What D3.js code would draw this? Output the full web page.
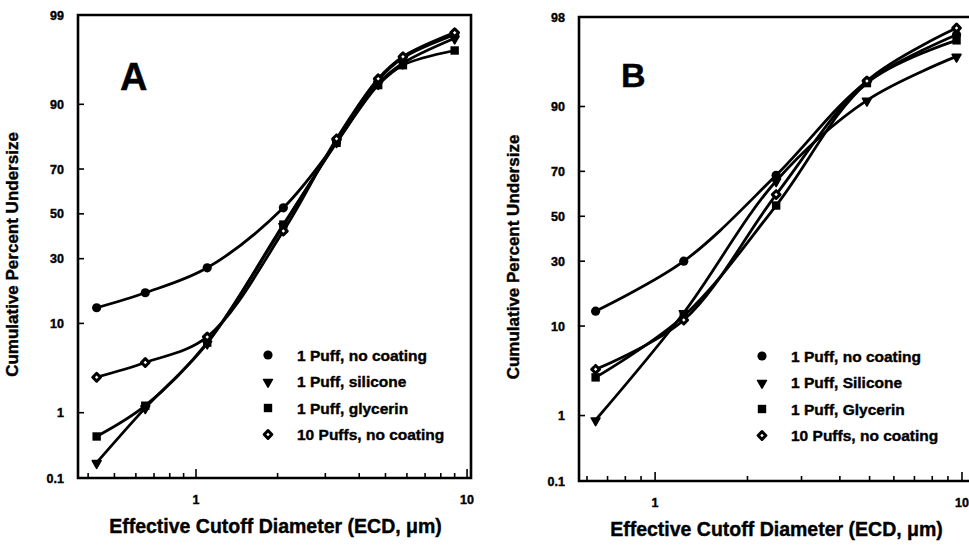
<!DOCTYPE html>
<html>
<head>
<meta charset="utf-8">
<script src="https://cdn.jsdelivr.net/npm/d3@7"></script>
<style>
  body { margin: 0; background: #fff; }
  svg { display: block; font-family: "Liberation Sans", Arial, sans-serif; font-weight: bold; }
  svg text { fill: #000; stroke: #000; stroke-width: 0.4px; }
</style>
</head>
<body>
<svg id="chart" width="969" height="548"></svg>
<script>
// series names, shared by both panels
const seriesA = ["1 Puff, no coating", "1 Puff, silicone", "1 Puff, glycerin", "10 Puffs, no coating"];
const seriesB = ["1 Puff, no coating", "1 Puff, Silicone", "1 Puff, Glycerin", "10 Puffs, no coating"];
const symbols = ["circle", "triangle", "square", "diamond"];

// panel A: cutoff diameters (um) and cumulative % undersize
const ecdA = [0.43, 0.65, 1.1, 2.1, 3.3, 4.7, 5.8, 9.0];
const noCoatA = [13.6, 17.8, 26.4, 52.8, 80.0, 94.1, 96.6, 98.2];
const siliconeA = [0.18, 1.16, 6.5, 44.5, 80.0, 93.6, 96.1, 98.0];
const glycerinA = [0.46, 1.24, 6.6, 45.0, 79.7, 93.4, 95.9, 97.2];
const tenPuffA = [2.8, 4.1, 7.5, 42.0, 81.0, 94.3, 96.7, 98.3];

// panel B
const ecdB = [0.64, 1.24, 2.48, 4.9, 9.6];
const noCoatB = [13.4, 30.0, 68.4, 94.2, 98.3];
const siliconeB = [0.87, 13.0, 66.0, 91.2, 96.9];
const glycerinB = [3.0, 12.2, 55.0, 94.0, 98.0];
const tenPuffB = [3.7, 11.3, 60.0, 94.3, 98.6];

// probability axis
const yTicks = [0.1, 1, 10, 30, 50, 70, 90, 99];
const yTickLabelsA = ["0.1", "1", "10", "30", "50", "70", "90", "99"];
const yTickLabelsB = ["0.1", "1", "10", "30", "50", "70", "90", "98"];
const xLabels = [1, 10];

// inverse normal cdf (Acklam), used to build the probit scale
function probit(p) {
  const a = [-39.69683028665376, 220.9460984245205, -275.9285104469687, 138.357751867269, -30.66479806614716, 2.506628277459239];
  const b = [-54.47609879822406, 161.5858368580409, -155.6989798598866, 66.80131188771972, -13.28068155288572];
  const c = [-0.007784894002430293, -0.3223964580411365, -2.400758277161838, -2.549732539343734, 4.374664141464968, 2.938163982698783];
  const d = [0.007784695709041462, 0.3224671290700398, 2.445134137142996, 3.754408661907416];
  const pl = 0.02425;
  if (p < pl) {
    const q = Math.sqrt(-2 * Math.log(p));
    return (((((c[0] * q + c[1]) * q + c[2]) * q + c[3]) * q + c[4]) * q + c[5]) /
      ((((d[0] * q + d[1]) * q + d[2]) * q + d[3]) * q + 1);
  }
  if (p > 1 - pl) {
    const q = Math.sqrt(-2 * Math.log(1 - p));
    return -(((((c[0] * q + c[1]) * q + c[2]) * q + c[3]) * q + c[4]) * q + c[5]) /
      ((((d[0] * q + d[1]) * q + d[2]) * q + d[3]) * q + 1);
  }
  const q = p - 0.5;
  const r = q * q;
  return (((((a[0] * r + a[1]) * r + a[2]) * r + a[3]) * r + a[4]) * r + a[5]) * q /
    (((((b[0] * r + b[1]) * r + b[2]) * r + b[3]) * r + b[4]) * r + 1);
}

const svg = d3.select("#chart");

function drawMarker(g, kind, cx, cy) {
  if (kind === "circle") {
    g.append("circle").attr("cx", cx).attr("cy", cy).attr("r", 4.6).attr("fill", "#000");
  } else if (kind === "square") {
    g.append("rect").attr("x", cx - 4.2).attr("y", cy - 4.2).attr("width", 8.4).attr("height", 8.4).attr("fill", "#000");
  } else if (kind === "triangle") {
    g.append("path")
      .attr("transform", `translate(${cx},${cy + 0.5}) rotate(180)`)
      .attr("d", d3.symbol(d3.symbolTriangle, 34)())
      .attr("fill", "#000").attr("stroke", "#000").attr("stroke-width", 1.6)
      .attr("stroke-linejoin", "round");
  } else {
    // open diamond: square turned 45 degrees, heavy outline
    g.append("path")
      .attr("transform", `translate(${cx},${cy}) rotate(45)`)
      .attr("d", d3.symbol(d3.symbolSquare, 30)())
      .attr("fill", "#fff").attr("stroke", "#000").attr("stroke-width", 3)
      .attr("stroke-linejoin", "round");
  }
}

function drawPanel(opts) {
  const { box, xDomain, ecd, series, names, tickLabels, letter, letterPos, letterSize, legendPos, rightEdge } = opts;

  const x = d3.scaleLog().domain(xDomain).range([box.left, box.right]);
  const yz = d3.scaleLinear().domain([probit(0.001), probit(0.99)]).range([box.bottom, box.top]);
  const y = (p) => yz(probit(p / 100));

  const g = svg.append("g");

  // frame
  g.append("path")
    .attr("d", rightEdge
      ? `M${box.left},${box.top}H${box.right}V${box.bottom}H${box.left}Z`
      : `M${box.right},${box.top}H${box.left}V${box.bottom}H${box.right}`)
    .attr("fill", "none").attr("stroke", "#000").attr("stroke-width", 2.6);

  // x ticks (inward), log scale
  x.ticks().forEach((t) => {
    const major = Math.abs(Math.log10(t) - Math.round(Math.log10(t))) < 1e-9;
    g.append("line")
      .attr("x1", x(t)).attr("x2", x(t))
      .attr("y1", box.bottom).attr("y2", box.bottom - (major ? 9 : 5))
      .attr("stroke", "#000").attr("stroke-width", 1.6);
  });
  xLabels.forEach((t) => {
    g.append("text")
      .attr("x", x(t)).attr("y", box.bottom + 26)
      .attr("text-anchor", "middle").attr("font-size", 12.5)
      .text(t);
  });

  // y ticks (inward), probability scale
  yTicks.forEach((t, i) => {
    g.append("line")
      .attr("x1", box.left).attr("x2", box.left + 6)
      .attr("y1", y(t)).attr("y2", y(t))
      .attr("stroke", "#000").attr("stroke-width", 1.6);
    g.append("text")
      .attr("x", box.left - 14).attr("y", y(t) + 4.5)
      .attr("text-anchor", "end").attr("font-size", 12.5)
      .text(tickLabels[i]);
  });

  // axis titles
  g.append("text")
    .attr("transform", `translate(${box.left - 60},${(box.top + box.bottom) / 2 + 8}) rotate(-90)`)
    .attr("text-anchor", "middle").attr("font-size", 17)
    .text("Cumulative Percent Undersize");
  g.append("text")
    .attr("x", (box.left + box.right) / 2 + 1).attr("y", box.bottom + 55)
    .attr("text-anchor", "middle").attr("font-size", 19.5)
    .text("Effective Cutoff Diameter (ECD, \u03bcm)");

  // panel letter
  g.append("text")
    .attr("x", letterPos[0]).attr("y", letterPos[1])
    .attr("font-size", letterSize)
    .text(letter);

  // curves
  const line = d3.line()
    .x((d) => x(d[0]))
    .y((d) => y(d[1]))
    .curve(d3.curveCatmullRom.alpha(0.5));

  series.forEach((vals) => {
    g.append("path")
      .datum(ecd.map((e, i) => [e, vals[i]]))
      .attr("d", line)
      .attr("fill", "none").attr("stroke", "#000").attr("stroke-width", 2.8)
      .attr("stroke-linejoin", "round");
  });

  series.forEach((vals, s) => {
    ecd.forEach((e, i) => drawMarker(g, symbols[s], x(e), y(vals[i])));
  });

  // legend
  names.forEach((name, i) => {
    const ly = legendPos[1] + i * 26.5;
    drawMarker(g, symbols[i], legendPos[0], ly);
    g.append("text")
      .attr("x", legendPos[0] + 29).attr("y", ly + 5.5)
      .attr("font-size", 15.5)
      .text(name);
  });
}

drawPanel({
  box: { left: 78, right: 471, top: 15, bottom: 478 },
  xDomain: [0.367, 10.34],
  ecd: ecdA,
  series: [noCoatA, siliconeA, glycerinA, tenPuffA],
  names: seriesA,
  tickLabels: yTickLabelsA,
  letter: "A",
  letterPos: [120, 90],
  letterSize: 38,
  legendPos: [268, 355],
  rightEdge: true,
});

drawPanel({
  box: { left: 579, right: 972, top: 17, bottom: 481 },
  xDomain: [0.565, 10.78],
  ecd: ecdB,
  series: [noCoatB, siliconeB, glycerinB, tenPuffB],
  names: seriesB,
  tickLabels: yTickLabelsB,
  letter: "B",
  letterPos: [621, 87],
  letterSize: 34,
  legendPos: [762, 356],
  rightEdge: false,
});
</script>
</body>
</html>
